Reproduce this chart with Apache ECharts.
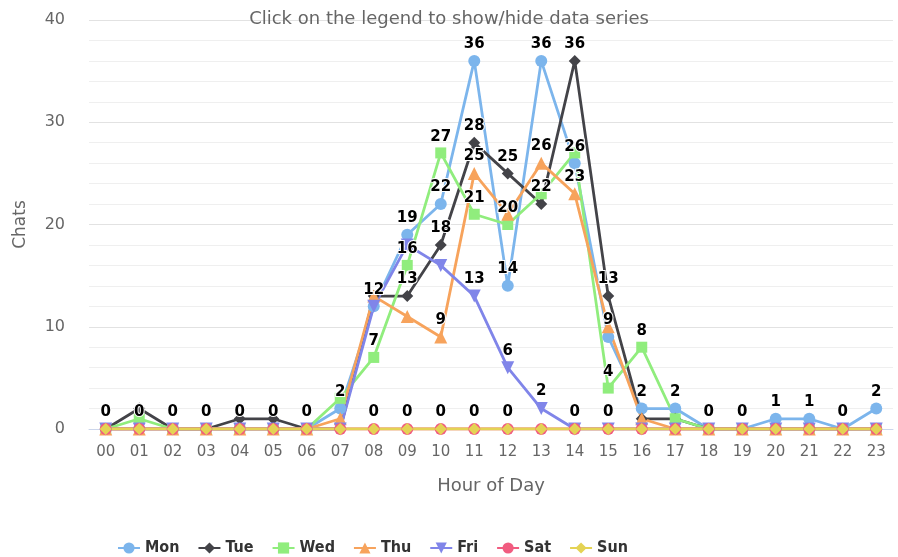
<!DOCTYPE html>
<html lang="en">
<head>
    <meta charset="UTF-8">
    <title>Chats by hour</title>
    <script src="https://cdn.jsdelivr.net/npm/echarts@6/dist/echarts.min.js"></script>
    <style>
        body { margin: 0; background: #fff; }
    </style>
</head>
<body>
<div id="main" style="width: 898px;height:557px;"></div>
<script type="text/javascript">
    // hours on the x axis
    var hours = ['00','01','02','03','04','05','06','07','08','09','10','11',
                 '12','13','14','15','16','17','18','19','20','21','22','23'];

    // chats per hour, one array per weekday
    var mon = [0,0,0,0,0,0,0,2,12,19,22,36,14,36,26,9,2,2,0,0,1,1,0,2];
    var tue = [0,2,0,0,1,1,0,0,13,13,18,28,25,22,36,13,1,1,0,0,0,0,0,0];
    var wed = [0,1,0,0,0,0,0,3,7,16,27,21,20,23,27,4,8,1,0,0,0,0,0,0];
    var thu = [0,0,0,0,0,0,0,1,13,11,9,25,21,26,23,10,1,0,0,0,0,0,0,0];
    var fri = [0,0,0,0,0,0,0,0,12,18,16,13,6,2,0,0,0,0,0,0,0,0,0,0];
    var sat = [0,0,0,0,0,0,0,0,0,0,0,0,0,0,0,0,0,0,0,0,0,0,0,0];
    var sun = [0,0,0,0,0,0,0,0,0,0,0,0,0,0,0,0,0,0,0,0,0,0,0,0];

    var days = ['Mon','Tue','Wed','Thu','Fri','Sat','Sun'];
    var values = [mon, tue, wed, thu, fri, sat, sun];

    // which hours keep their value label (the others were hidden by overlap)
    var labelHours = {
        Mon: hours,
        Tue: ['09','10','11','12','13','14','15'],
        Wed: ['08','09','10','11','12','15','16'],
        Thu: ['10','11','13','14'],
        Fri: ['11','12','13'],
        Sat: ['08','09','10','11','12','14','15'],
        Sun: []
    };

    var colors = ['#7cb5ec','#434348','#90ed7d','#f7a35c','#8085e9','#f15c80','#e4d354'];
    var symbols = ['circle','diamond','rect','triangle','triangle','circle','diamond'];
    var rotates = [0,0,0,0,180,0,0];
    var sizes = [12,12,11,13,13,12,12];

    var series = [];
    for (var i = 0; i < days.length; i++) {
        var data = [];
        for (var j = 0; j < hours.length; j++) {
            data.push({
                value: values[i][j],
                label: { show: labelHours[days[i]].indexOf(hours[j]) >= 0 }
            });
        }
        series.push({
            name: days[i],
            type: 'line',
            data: data,
            symbol: symbols[i],
            symbolRotate: rotates[i],
            symbolSize: sizes[i],
            showAllSymbol: true,
            lineStyle: { width: 2.8, color: colors[i] },
            itemStyle: { color: colors[i] },
            label: {
                position: 'top',
                distance: 3,
                color: '#000',
                fontFamily: 'DejaVu Sans',
                fontWeight: 'bold',
                fontSize: 15,
                textBorderColor: '#fff',
                textBorderWidth: 2
            },
            emphasis: { disabled: true }
        });
    }

    var myChart = echarts.init(document.getElementById('main'));
    var option = {
        animation: false,
        color: colors,
        title: {
            text: 'Click on the legend to show/hide data series',
            left: 'center',
            top: 5,
            textStyle: {
                color: '#666',
                fontFamily: 'DejaVu Sans',
                fontWeight: 'normal',
                fontSize: 18
            }
        },
        legend: {
            left: 112,
            top: 535,
            itemWidth: 22,
            itemHeight: 14,
            itemGap: 18,
            data: days,
            textStyle: {
                color: '#333',
                fontFamily: 'DejaVu Sans Condensed',
                fontWeight: 'bold',
                fontSize: 16
            }
        },
        grid: {
            left: 89,
            right: 5,
            top: 20,
            bottom: 128
        },
        xAxis: {
            type: 'category',
            data: hours,
            boundaryGap: true,
            name: 'Hour of Day',
            nameLocation: 'middle',
            nameGap: 48,
            nameTextStyle: { color: '#666', fontFamily: 'DejaVu Sans', fontSize: 18 },
            axisLine: { lineStyle: { color: '#ccd6eb' } },
            axisTick: { show: false },
            axisLabel: { color: '#666', fontFamily: 'DejaVu Sans', fontSize: 15, margin: 16 }
        },
        yAxis: {
            type: 'value',
            min: 0,
            max: 40,
            interval: 10,
            name: 'Chats',
            nameLocation: 'middle',
            nameGap: 60,
            nameTextStyle: { color: '#666', fontFamily: 'DejaVu Sans', fontSize: 17 },
            axisLabel: { color: '#666', fontFamily: 'DejaVu Sans', fontSize: 16, margin: 24 },
            splitLine: { lineStyle: { color: '#e2e2e2', width: 1 } },
            minorTick: { show: false, splitNumber: 5 },
            minorSplitLine: { show: true, lineStyle: { color: '#efefef', width: 1 } }
        },
        series: series
    };
    myChart.setOption(option);
</script>
</body>
</html>
